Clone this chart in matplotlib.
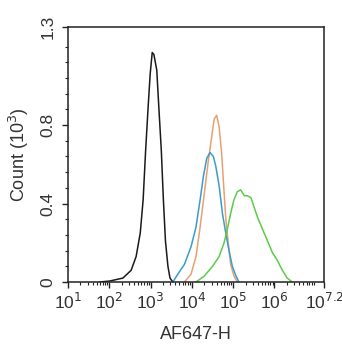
import numpy as np
import matplotlib
matplotlib.use("Agg")
import matplotlib.pyplot as plt
from matplotlib.ticker import FixedLocator, LogLocator, NullFormatter

plt.rcParams['font.family'] = ['Liberation Sans', 'DejaVu Sans']

# Histogram outlines: log10(AF647-H) and count (x10^3)
black_logx = [1.77, 2.01, 2.33, 2.53, 2.65, 2.75, 2.82, 2.88, 2.94, 2.99, 3.04, 3.08,
              3.15, 3.20, 3.26, 3.31, 3.36, 3.42, 3.47, 3.54]
black_count = [0.0, 0.005, 0.02, 0.06, 0.13, 0.25, 0.42, 0.67, 0.89, 1.06, 1.17, 1.16,
               1.08, 0.89, 0.67, 0.42, 0.21, 0.08, 0.02, 0.0]

orange_logx = [3.82, 3.98, 4.10, 4.20, 4.30, 4.40, 4.48, 4.54, 4.60, 4.66, 4.72, 4.77,
               4.82, 4.88, 4.94, 5.02, 5.10]
orange_count = [0.0, 0.04, 0.13, 0.28, 0.45, 0.62, 0.74, 0.83, 0.85, 0.79, 0.66, 0.49,
                0.33, 0.20, 0.09, 0.03, 0.0]

blue_logx = [3.54, 3.66, 3.82, 3.98, 4.10, 4.20, 4.28, 4.36, 4.44, 4.52, 4.58, 4.66,
             4.74, 4.82, 4.90, 4.98, 5.07, 5.14]
blue_count = [0.0, 0.04, 0.09, 0.18, 0.28, 0.42, 0.54, 0.63, 0.66, 0.64, 0.59, 0.49,
              0.35, 0.25, 0.16, 0.08, 0.03, 0.0]

green_logx = [4.10, 4.30, 4.50, 4.66, 4.78, 4.86, 4.94, 5.02, 5.10, 5.18, 5.27, 5.34,
              5.43, 5.51, 5.59, 5.71, 5.83, 5.95, 6.07, 6.19, 6.31, 6.43]
green_count = [0.0, 0.03, 0.08, 0.13, 0.20, 0.27, 0.35, 0.42, 0.46, 0.47, 0.44, 0.44,
               0.43, 0.38, 0.33, 0.27, 0.21, 0.15, 0.11, 0.06, 0.02, 0.0]

x_tick_exps = [1, 2, 3, 4, 5, 6, 7.2]
x_tick_labels = ['10$^{1}$', '10$^{2}$', '10$^{3}$', '10$^{4}$', '10$^{5}$', '10$^{6}$', '10$^{7.2}$']
y_ticks = [0, 0.4, 0.8, 1.3]
y_tick_labels = ['0', '0.4', '0.8', '1.3']

fig = plt.figure(figsize=(3.42, 3.50), dpi=100)
ax = fig.add_axes([68/342, 68/350, 256/342, 255/350])

series = [
    (black_logx, black_count, '#1a1a1a'),
    (orange_logx, orange_count, '#e8a070'),
    (blue_logx, blue_count, '#3a9ccc'),
    (green_logx, green_count, '#5ccc48'),
]
for lx, cnt, col in series:
    ax.plot(10 ** np.array(lx), cnt, color=col, lw=1.1)

ax.set_xscale('log')
ax.set_xlim(10 ** 1, 10 ** 7.2)
ax.set_ylim(0, 1.3)

ax.xaxis.set_major_locator(FixedLocator([10 ** e for e in x_tick_exps]))
ax.set_xticklabels(x_tick_labels)
ax.xaxis.set_minor_locator(LogLocator(base=10, subs=np.arange(2, 10), numticks=20))
ax.xaxis.set_minor_formatter(NullFormatter())

ax.set_yticks(y_ticks)
ax.set_yticklabels(y_tick_labels, rotation=90, va='center')
ax.yaxis.set_minor_locator(FixedLocator(np.arange(0.08, 1.28, 0.08)))

ax.tick_params(axis='both', which='major', direction='out', length=4, width=1,
               labelsize=12.5, color='#222222', labelcolor='#333333')
ax.tick_params(axis='both', which='minor', direction='out', length=2.5, width=0.8,
               color='#222222')
ax.tick_params(axis='x', pad=3)
ax.tick_params(axis='y', pad=5)

for s in ax.spines.values():
    s.set_linewidth(1.1)
    s.set_color('#222222')

ax.set_xlabel('AF647-H', fontsize=13, color='#333333', labelpad=10)
ax.set_ylabel('Count (10$^{3}$)', fontsize=13, color='#333333', labelpad=7)

fig.savefig('out.png', dpi=100)
